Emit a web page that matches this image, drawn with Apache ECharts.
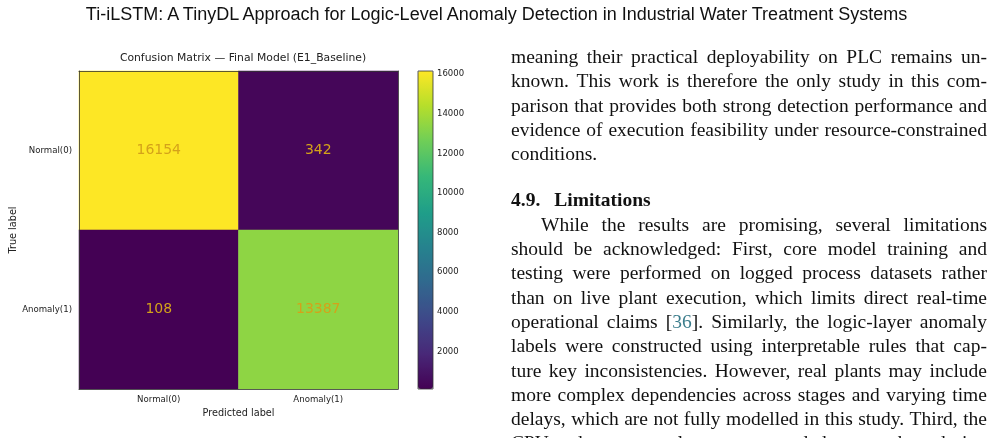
<!DOCTYPE html>
<html>
<head>
<meta charset="utf-8">
<script src="https://cdn.jsdelivr.net/npm/echarts@6/dist/echarts.min.js"></script>
<style>
  body { margin: 0; background: #fff; }
  #main { position: absolute; left: 0; top: 0; width: 993px; height: 438px; }
  #pageTitle { position: absolute; left: 0; top: 4px; width: 993px; text-align: center; white-space: nowrap;
    font-family: 'Liberation Sans', sans-serif; color: #111; line-height: 20px; }
  #pageTitle span { display: inline-block; font-size: 16px; }
  #col { position: absolute; left: 511px; top: 45px; width: 476px; font-family: 'Liberation Serif', serif;
    font-size: 19.5px; line-height: 24.3px; color: #111; overflow: hidden; height: 393px; }
  .jl { display: flex; justify-content: space-between; white-space: nowrap; }
  .pl { white-space: nowrap; }
  .hd { font-weight: bold; margin-top: 22px; white-space: nowrap; }
  .ref { color: #3b7d8c; }
</style>
</head>
<body>
<div id="main"></div>
<div id="pageTitle"><span>Ti-iLSTM: A TinyDL Approach for Logic-Level Anomaly Detection in Industrial Water Treatment Systems</span></div>
<div id="col"></div>
<script>
// confusion matrix values (rows = true label, cols = predicted label)
const predLabels = ['Normal(0)', 'Anomaly(1)'];
const trueLabels = ['Normal(0)', 'Anomaly(1)'];
const rowNormal = [16154, 342];
const rowAnomaly = [108, 13387];
const cbarTicks = [2000, 4000, 6000, 8000, 10000, 12000, 14000, 16000];

// paper text beside the figure
const para1 = [
  'meaning their practical deployability on PLC remains un-',
  'known. This work is therefore the only study in this com-',
  'parison that provides both strong detection performance and',
  'evidence of execution feasibility under resource-constrained',
  'conditions.'
];
const heading = '4.9.  Limitations';
const para2 = [
  'While the results are promising, several limitations',
  'should be acknowledged: First, core model training and',
  'testing were performed on logged process datasets rather',
  'than on live plant execution, which limits direct real-time',
  'operational claims [36]. Similarly, the logic-layer anomaly',
  'labels were constructed using interpretable rules that cap-',
  'ture key inconsistencies. However, real plants may include',
  'more complex dependencies across stages and varying time',
  'delays, which are not fully modelled in this study. Third, the',
  'CPU and memory values were recorded as snapshots during'
];

const viridis = ['#440154', '#482878', '#3e4989', '#31688e', '#26828e',
  '#1f9e89', '#35b779', '#6ece58', '#b5de2b', '#fde725'];

// fit the running head
const ts = document.querySelector('#pageTitle span');
ts.style.fontSize = (16 * 822 / ts.getBoundingClientRect().width) + 'px';

// text column
const col = document.getElementById('col');
function wordHtml(w) {
  return w.replace('[36]', '[<span class="ref">36</span>]');
}
function addLines(lines, justifyLast, indent) {
  lines.forEach((ln, i) => {
    const d = document.createElement('div');
    const last = i === lines.length - 1 && !justifyLast;
    if (last) {
      d.className = 'pl';
      d.innerHTML = wordHtml(ln);
    } else {
      d.className = 'jl';
      d.innerHTML = ln.split(' ').map(w => '<span>' + wordHtml(w) + '</span>').join('');
    }
    if (i === 0 && indent) d.style.paddingLeft = indent + 'px';
    col.appendChild(d);
  });
}
addLines(para1, false, 0);
const h = document.createElement('div');
h.className = 'hd';
h.innerHTML = heading.replace('  ', '<span style="display:inline-block;width:14px"></span>');
col.appendChild(h);
addLines(para2, true, 30);

// chart
const data = [];
[rowNormal, rowAnomaly].forEach((row, yi) => {
  row.forEach((v, xi) => data.push([xi, yi, v]));
});

const MyChart = echarts.init(document.getElementById('main'));
const axisCol = '#333';
const txtCol = '#222';
let option = {
  animation: false,
  textStyle: { fontFamily: 'DejaVu Sans' },
  title: {
    text: 'Confusion Matrix — Final Model (E1_Baseline)',
    left: 238, top: 48, textAlign: 'center',
    textStyle: { fontSize: 10.8, fontWeight: 'normal', color: txtCol, fontFamily: 'DejaVu Sans' }
  },
  grid: [
    { left: 79, top: 71, width: 319, height: 318 },
    { left: 418, top: 71, width: 15, height: 318, show: true, borderColor: axisCol, borderWidth: 0.8, z: 10 }
  ],
  xAxis: [
    {
      type: 'category', gridIndex: 0, data: predLabels,
      name: 'Predicted label', nameLocation: 'middle', nameGap: 19,
      nameTextStyle: { fontSize: 9.7, color: txtCol },
      axisLine: { show: true, lineStyle: { color: axisCol, width: 0.8 } },
      axisTick: { alignWithLabel: true, length: 4, lineStyle: { color: axisCol } },
      axisLabel: { fontSize: 8.6, color: txtCol, margin: 6 },
      splitLine: { show: false }, z: 5
    },
    {
      type: 'category', gridIndex: 0, data: predLabels, position: 'top',
      axisLine: { show: true, lineStyle: { color: axisCol, width: 0.8 } },
      axisTick: { show: false }, axisLabel: { show: false }, splitLine: { show: false }, z: 5
    },
    { type: 'value', gridIndex: 1, show: false }
  ],
  yAxis: [
    {
      type: 'category', gridIndex: 0, data: trueLabels, inverse: true,
      name: 'True label', nameLocation: 'middle', nameGap: 61,
      nameTextStyle: { fontSize: 9.7, color: txtCol },
      axisLine: { show: true, lineStyle: { color: axisCol, width: 0.8 } },
      axisTick: { alignWithLabel: true, length: 4, lineStyle: { color: axisCol } },
      axisLabel: { fontSize: 8.6, color: txtCol, margin: 7 },
      splitLine: { show: false }, z: 5
    },
    {
      type: 'category', gridIndex: 0, data: trueLabels, inverse: true, position: 'right',
      axisLine: { show: true, lineStyle: { color: axisCol, width: 0.8 } },
      axisTick: { show: false }, axisLabel: { show: false }, splitLine: { show: false }, z: 5
    },
    {
      type: 'value', gridIndex: 1, position: 'right', min: 108, max: 16154,
      axisLine: { show: false }, splitLine: { show: false },
      axisTick: { show: true, length: 4, customValues: cbarTicks, lineStyle: { color: axisCol } },
      axisLabel: { customValues: cbarTicks, fontSize: 8.5, color: txtCol, margin: 4,
        formatter: v => String(v) }
    }
  ],
  visualMap: {
    type: 'continuous', min: 108, max: 16154, dimension: 2, seriesIndex: 0,
    calculable: false, left: 418, top: 71, itemWidth: 15, itemHeight: 318, padding: 0,
    inRange: { color: viridis }, hoverLink: false
  },
  series: [
    {
      type: 'heatmap', xAxisIndex: 0, yAxisIndex: 0, data: data,
      label: { show: true, color: '#d4a21a', fontSize: 14, fontFamily: 'DejaVu Sans',
        formatter: p => p.value[2] },
      emphasis: { disabled: true }
    }
  ]
};
MyChart.setOption(option);
</script>
</body>
</html>
